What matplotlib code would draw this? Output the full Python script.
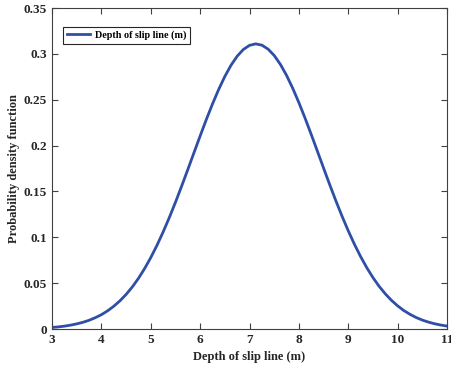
import numpy as np
import matplotlib.pyplot as plt

depth = [3.0, 3.125, 3.25, 3.375, 3.5, 3.625, 3.75, 3.875, 4.0, 4.125, 4.25,
         4.375, 4.5, 4.625, 4.75, 4.875, 5.0, 5.125, 5.25, 5.375, 5.5, 5.625,
         5.75, 5.875, 6.0, 6.125, 6.25, 6.375, 6.5, 6.625, 6.75, 6.875, 7.0,
         7.125, 7.25, 7.375, 7.5, 7.625, 7.75, 7.875, 8.0, 8.125, 8.25, 8.375,
         8.5, 8.625, 8.75, 8.875, 9.0, 9.125, 9.25, 9.375, 9.5, 9.625, 9.75,
         9.875, 10.0, 10.125, 10.25, 10.375, 10.5, 10.625, 10.75, 10.875, 11.0]
pdf = [0.0017, 0.0023, 0.0031, 0.0042, 0.0056, 0.0073, 0.0095, 0.0123,
       0.0156, 0.0198, 0.0248, 0.0307, 0.0377, 0.0458, 0.0552, 0.0659,
       0.0779, 0.0912, 0.1058, 0.1215, 0.1382, 0.1558, 0.1739, 0.1923,
       0.2106, 0.2285, 0.2455, 0.2613, 0.2755, 0.2877, 0.2976, 0.3049,
       0.3094, 0.3110, 0.3096, 0.3053, 0.2983, 0.2886, 0.2766, 0.2625,
       0.2468, 0.2299, 0.2121, 0.1938, 0.1754, 0.1572, 0.1396, 0.1228,
       0.1070, 0.0923, 0.0789, 0.0668, 0.0560, 0.0465, 0.0383, 0.0312,
       0.0252, 0.0201, 0.0160, 0.0125, 0.0097, 0.0075, 0.0057, 0.0043,
       0.0032]

plt.rcParams['font.family'] = ['Liberation Serif', 'DejaVu Serif']
plt.rcParams['font.weight'] = 'bold'

fig = plt.figure(figsize=(4.51, 3.74), dpi=100)
ax = fig.add_axes([0.1153, 0.1203, 0.876, 0.858])

ax.plot(depth, pdf, color='#2f4fa6', lw=2, label='Depth of slip line (m)',
        solid_joinstyle='round')

ax.set_xlim(3, 11)
ax.set_ylim(0, 0.35)
ax.set_xticks(np.arange(3, 12, 1))
ax.set_yticks(np.arange(0, 0.36, 0.05))
ax.set_yticklabels(['0', '0.05', '0.1', '0.15', '0.2', '0.25', '0.3', '0.35'])
ax.tick_params(direction='in', top=True, right=True, labelsize=9.5,
               length=4, color='#404040', labelcolor='#262626')
for s in ax.spines.values():
    s.set_color('#404040')
    s.set_linewidth(0.8)

ax.set_xlabel('Depth of slip line (m)', fontsize=9, fontweight='bold',
              color='#262626', labelpad=4)
ax.set_ylabel('Probability density function', fontsize=9, fontweight='bold',
              color='#262626', labelpad=3)

leg = ax.legend(loc='upper left', bbox_to_anchor=(0.028, 0.941), borderaxespad=0,
                fancybox=False, fontsize=7.3, handlelength=2.3, framealpha=1,
                borderpad=0.35, handletextpad=0.5)
leg.get_frame().set_edgecolor('#262626')
leg.get_frame().set_linewidth(0.8)

fig.savefig('out.png', dpi=100)
